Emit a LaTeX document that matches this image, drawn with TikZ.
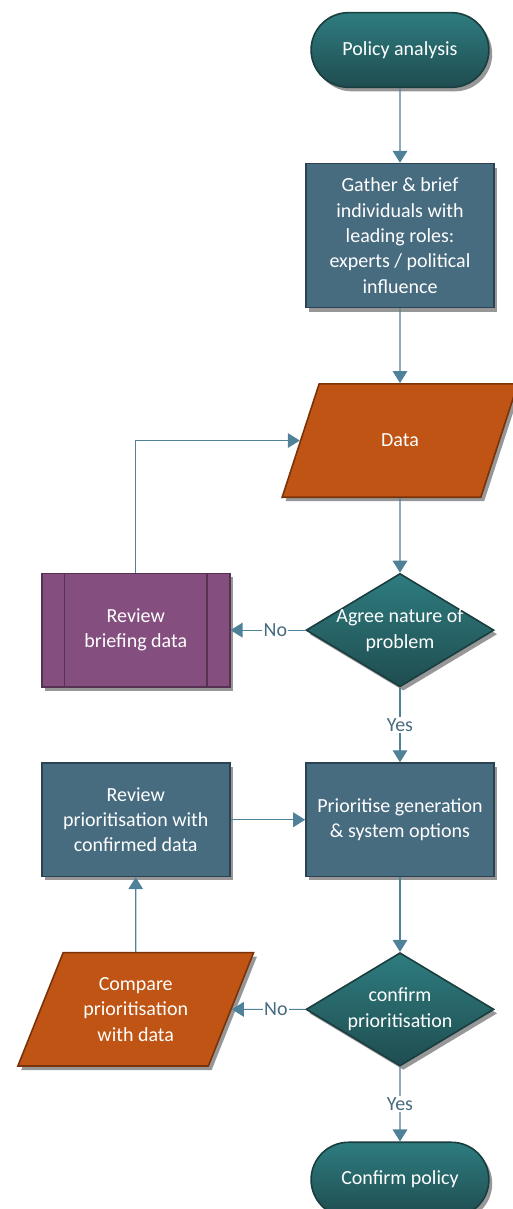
\documentclass[tikz,border=0pt]{standalone}
\usepackage{fontspec}
\setmainfont{Carlito}
\usetikzlibrary{positioning,shapes.geometric,shapes.misc,shadows,arrows.meta}
\definecolor{tealtop}{HTML}{2E7C7F}
\definecolor{tealbot}{HTML}{1F4D50}
\definecolor{tealline}{HTML}{1A3D3F}
\definecolor{slate}{HTML}{476B7F}
\definecolor{slateline}{HTML}{2A4352}
\definecolor{rust}{HTML}{BF5414}
\definecolor{rustline}{HTML}{7A3209}
\definecolor{plum}{HTML}{844E7F}
\definecolor{plumline}{HTML}{553152}
\definecolor{flowline}{HTML}{4F8199}
\begin{document}
\begin{tikzpicture}[
    node distance=56pt,
    >={Triangle[width=11pt,length=9pt]},
    font=\fontsize{15}{19}\selectfont,
    boxshadow/.style={drop shadow={shadow xshift=2.5pt,shadow yshift=-3pt,fill=black!45,opacity=.9}},
    terminal/.style={rounded rectangle, draw=tealline, line width=1.2pt, top color=tealtop, bottom color=tealbot, text=white, minimum width=140pt, minimum height=56pt, boxshadow},
    process/.style={rectangle, draw=slateline, line width=1.2pt, fill=slate, text=white, minimum width=141pt, minimum height=85pt, align=center, boxshadow},
    predef/.style={process, draw=plumline, fill=plum,
        path picture={\draw[plumline, line width=1.2pt]
            ([xshift=17pt]path picture bounding box.north west) -- ([xshift=17pt]path picture bounding box.south west)
            ([xshift=-17pt]path picture bounding box.north east) -- ([xshift=-17pt]path picture bounding box.south east);}},
    io/.style={trapezium, trapezium left angle=64, trapezium right angle=116, trapezium stretches=true, draw=rustline, line width=1.2pt, fill=rust, text=white, minimum width=177pt, minimum height=85pt, align=center, boxshadow},
    decision/.style={diamond, draw=tealline, line width=1.2pt, top color=tealtop, bottom color=tealbot, minimum width=141pt, minimum height=85pt, inner sep=0pt, boxshadow},
    dectext/.style={text=white, align=center},
    flow/.style={draw=flowline, line width=0.8pt, ->},
    answer/.style={fill=white, text=slate, inner sep=1pt}
    ]

    \useasboundingbox (-300pt,37.5pt) rectangle (84.75pt,-869.25pt);

    \node[terminal] (start) {Policy analysis};
    \node[process, below=of start, minimum height=108pt] (gather) {Gather \& brief\\individuals with\\leading roles:\\experts / political\\influence};
    \node[io, below=of gather] (data) {Data};
    \node[decision, below=of data, label={[dectext]center:Agree nature of\\problem}] (agree) {};
    \node[predef, left=of agree] (revbrief) {Review\\briefing data};
    \node[process, below=of agree] (prio) {Prioritise generation\\\& system options};
    \node[process, left=of prio] (revprio) {Review\\prioritisation with\\confirmed data};
    \node[decision, below=of prio, label={[dectext]center:confirm\\prioritisation}] (confirm) {};
    \node[io] (compare) at (revprio |- confirm) {Compare\\prioritisation\\with data};
    \node[terminal, below=of confirm] (finish) {Confirm policy};

    \draw[flow] (start) -- (gather);
    \draw[flow] (gather) -- (data);
    \draw[flow] (data) -- (agree);
    \draw[flow] (agree) -- node[answer, pos=.4]{No} (revbrief);
    \draw[flow] (revbrief.north) |- (data.west);
    \draw[flow] (agree) -- node[answer]{Yes} (prio);
    \draw[flow] (revprio) -- (prio);
    \draw[flow] (prio) -- (confirm);
    \draw[flow] (confirm) -- node[answer, pos=.4]{No} (compare);
    \draw[flow] (compare) -- (revprio);
    \draw[flow] (confirm) -- node[answer]{Yes} (finish);
\end{tikzpicture}
\end{document}
